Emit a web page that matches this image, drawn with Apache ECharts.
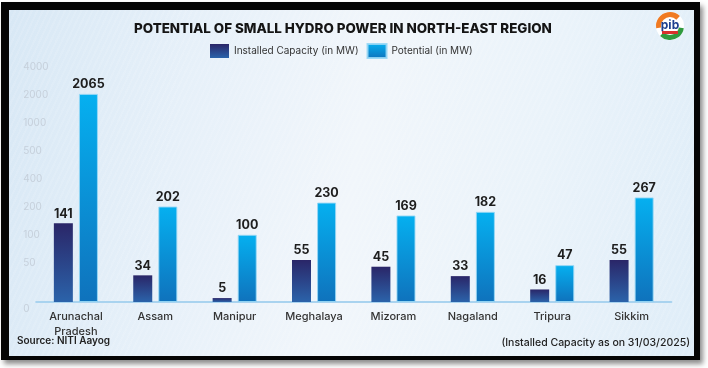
<!DOCTYPE html>
<html><head><meta charset="utf-8">
<script src="https://cdn.jsdelivr.net/npm/echarts@6/dist/echarts.min.js"></script>
<style>
html,body{margin:0;padding:0;background:#fff;width:708px;height:368px;overflow:hidden}
#frame{position:absolute;left:1px;top:2px;width:699px;height:358px;background:#050505;box-shadow:3px 4px 5px rgba(0,0,0,0.45)}
#panel{position:absolute;left:8px;top:8px;width:685px;height:346px;
 background:
  repeating-linear-gradient(115deg, rgba(255,255,255,0.10) 0px, rgba(255,255,255,0.10) 2px, rgba(255,255,255,0) 2px, rgba(255,255,255,0) 5px),
  linear-gradient(100deg,#d8e8f5 0%,#e6f0f9 25%,#f1f6fb 50%,#eaf3fa 75%,#dfedf8 100%);}
#chart{position:absolute;left:0;top:0;width:708px;height:368px}
</style></head>
<body>
<div id="frame"><div id="panel"></div></div>
<div id="chart"></div>
<script>
const categories = ['Arunachal\nPradesh','Assam','Manipur','Meghalaya','Mizoram','Nagaland','Tripura','Sikkim'];
const installed = [141,34,5,55,45,33,16,55];
const potential = [2065,202,100,230,169,182,47,267];
const tickValues = [0,50,100,200,400,500,1000,2000,4000];
// axis slot of each tick label (the reference uses an uneven, piecewise scale)
const tickSlots = [0,1.4,2.4,3.4,4.4,5.4,6.4,7.4,8.4];

function toSlot(v){
  for(let i=0;i<tickValues.length-1;i++){
    if(v<=tickValues[i+1]){
      return tickSlots[i]+(v-tickValues[i])/(tickValues[i+1]-tickValues[i])*(tickSlots[i+1]-tickSlots[i]);
    }
  }
  return tickSlots[tickSlots.length-1];
}
const FONT = 'Inter, "Open Sans", sans-serif';
const chart = echarts.init(document.getElementById('chart'), null, {renderer:'canvas'});
chart.setOption({
  backgroundColor:'transparent',
  animation:false,
  title:{text:'POTENTIAL OF SMALL HYDRO POWER IN NORTH-EAST REGION',left:129,top:17,
    textStyle:{fontFamily:FONT,fontSize:13.4,fontWeight:800,color:'#151515'}},
  legend:{left:205,top:38,itemWidth:19,itemHeight:14,itemGap:8,icon:'rect',
    textStyle:{fontFamily:FONT,fontSize:10,color:'#333'}},
  grid:{left:36.2,right:36.7,top:61.2,bottom:66},
  xAxis:{type:'category',data:categories,
    axisLine:{lineStyle:{color:'#a9d3ef',width:2}},axisTick:{show:false},
    axisLabel:{fontFamily:FONT,fontSize:11,color:'#333',margin:7,lineHeight:15,fontWeight:500}},
  yAxis:{type:'value',min:0,max:8.6,splitLine:{show:false},axisLine:{show:false},axisTick:{show:false},
    axisLabel:{customValues:tickSlots,align:'left',margin:13,fontFamily:FONT,fontSize:10,color:'#c6d0db',
      formatter:function(v){
        let best=0;for(let i=0;i<tickSlots.length;i++){if(Math.abs(tickSlots[i]-v)<Math.abs(tickSlots[best]-v))best=i;}
        return best===0?'{z|0}':String(tickValues[best]);
      },
      rich:{z:{padding:[14,0,0,0],fontSize:10,color:'#c6d0db',fontFamily:FONT}}}},
  series:[
    {name:'Installed Capacity (in MW)',type:'bar',barWidth:19,barGap:'32%',
     data:installed.map(toSlot),
     itemStyle:{color:new echarts.graphic.LinearGradient(0,0,0,1,[{offset:0,color:'#2a2668'},{offset:1,color:'#2b63aa'}])},
     label:{show:true,position:'top',distance:3,fontFamily:FONT,fontSize:12.5,fontWeight:700,color:'#1e1e1e',
       formatter:p=>installed[p.dataIndex]}},
    {name:'Potential (in MW)',type:'bar',barWidth:19,
     data:potential.map(toSlot),
     itemStyle:{borderColor:'rgba(150,215,245,0.9)',borderWidth:1,
       color:new echarts.graphic.LinearGradient(0,0,0,1,[{offset:0,color:'#05b0f0'},{offset:1,color:'#0f72bc'}])},
     label:{show:true,position:'top',distance:3,fontFamily:FONT,fontSize:12.5,fontWeight:700,color:'#1e1e1e',
       formatter:p=>potential[p.dataIndex]}}
  ],
  graphic:[
    {type:'text',left:17,top:336,style:{text:'Source: NITI Aayog',font:'600 10px '+FONT,fill:'#222'}},
    {type:'text',right:18,top:337,style:{text:'(Installed Capacity as on 31/03/2025)',font:'500 10.5px '+FONT,fill:'#222'}},
    {type:'group',left:656,top:12,children:[
      {type:'circle',shape:{cx:14,cy:14,r:14},style:{fill:'#ffffff'}},
      {type:'sector',shape:{cx:14,cy:14,r:14,r0:9,startAngle:Math.PI*0.95,endAngle:Math.PI*1.75},style:{fill:'#f07a22'}},
      {type:'sector',shape:{cx:14,cy:14,r:14,r0:9,startAngle:Math.PI*0.05,endAngle:Math.PI*0.75},style:{fill:'#2f9a3e'}},
      {type:'text',x:14,y:13,style:{text:'pib',font:'bold 12px '+FONT,fill:'#1d3f8f',align:'center',verticalAlign:'middle'}},
      {type:'rect',shape:{x:6,y:19,width:16,height:3},style:{fill:'#d9302c'}}
    ]}
  ]
});
</script>
</body></html>
